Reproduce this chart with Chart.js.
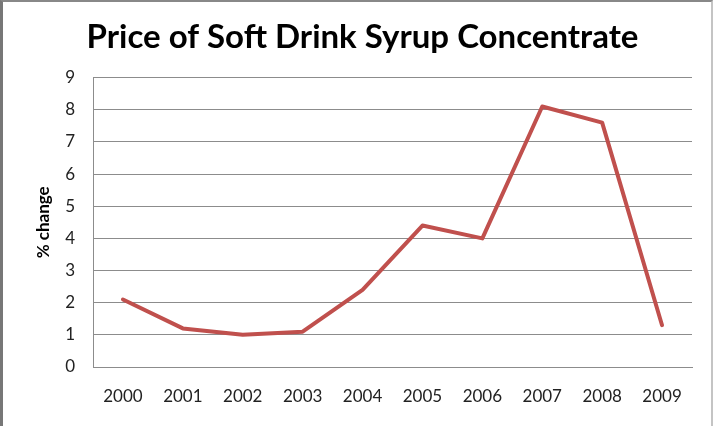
<!DOCTYPE html>
<html>
<head>
<meta charset="utf-8">
<script src="https://cdn.jsdelivr.net/npm/chart.js@4/dist/chart.umd.min.js"></script>
<style>
  body { margin: 0; background: #fff; }
  #wrap { position: relative; width: 713px; height: 426px; }
  #frame {
    position: absolute; left: 0; top: 0; width: 713px; height: 426px;
    box-sizing: border-box; pointer-events: none;
    border-left: 3px solid #777; border-top: 2px solid #888; border-right: 2px solid #c4c4c4;
  }
</style>
</head>
<body>
<div id="wrap">
  <canvas id="syrupChart" width="713" height="426"></canvas>
  <div id="frame"></div>
</div>
<script>
// Chart data
const years = ['2000', '2001', '2002', '2003', '2004', '2005', '2006', '2007', '2008', '2009'];
const pctChange = [2.1, 1.2, 1.0, 1.1, 2.4, 4.4, 4.0, 8.1, 7.6, 1.3];
const yTicks = [0, 1, 2, 3, 4, 5, 6, 7, 8, 9];

const gridColor = '#8c8c8c';
const tickFont = { family: 'Lato', size: 17 };

const ctx = document.getElementById('syrupChart').getContext('2d');

new Chart(ctx, {
    type: 'line',
    data: {
        labels: years,
        datasets: [{
            label: '% change',
            data: pctChange,
            borderColor: '#C0504D',
            borderWidth: 4,
            borderJoinStyle: 'round',
            borderCapStyle: 'round',
            pointRadius: 0,
            tension: 0,
            fill: false
        }]
    },
    options: {
        responsive: false,
        animation: false,
        layout: { padding: { left: 33, right: 21, top: 0, bottom: 0 } },
        plugins: {
            legend: { display: false },
            tooltip: { enabled: false },
            title: {
                display: true,
                text: 'Price of Soft Drink Syrup Concentrate',
                color: '#000',
                font: { family: 'Lato', size: 33, weight: 'bold' },
                padding: { top: 18, bottom: 20 }
            }
        },
        scales: {
            x: {
                offset: true,
                grid: { display: false },
                border: { display: true, color: gridColor, width: 1 },
                ticks: { color: '#222', font: tickFont, padding: 11, maxRotation: 0 },
                afterFit: scale => { scale.height = 59; }
            },
            y: {
                min: 0,
                max: 9,
                afterBuildTicks: scale => { scale.ticks = yTicks.map(v => ({ value: v })); },
                grid: { color: gridColor, drawTicks: false },
                border: { display: true, color: gridColor, width: 1 },
                ticks: { color: '#222', font: tickFont, padding: 18 },
                title: {
                    display: true,
                    text: '% change',
                    color: '#000',
                    font: { family: 'Lato', size: 17, weight: 'bold' },
                    padding: 0
                },
                afterFit: scale => { scale.width = 60; }
            }
        }
    }
});
</script>
</body>
</html>
